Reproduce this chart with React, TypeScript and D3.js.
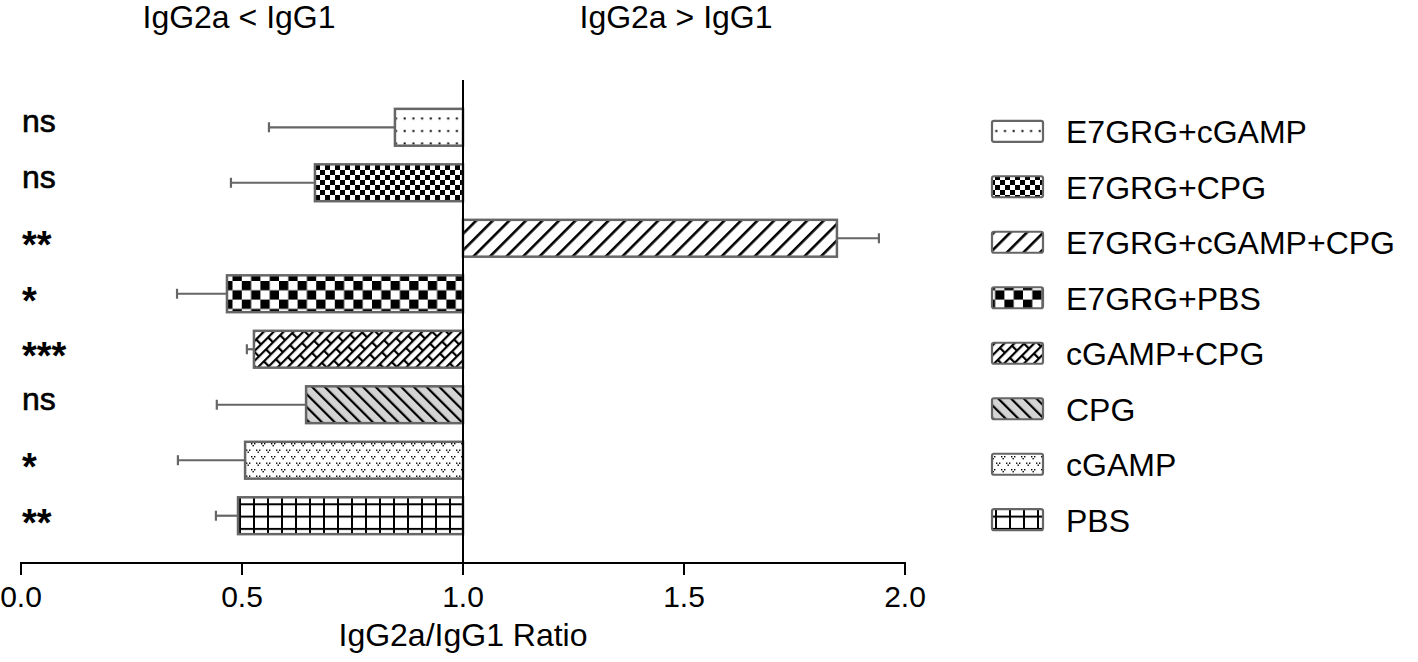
import React, { useEffect } from 'react';
import * as d3 from 'd3';

// groups, top to bottom
const groups = ['E7GRG+cGAMP', 'E7GRG+CPG', 'E7GRG+cGAMP+CPG', 'E7GRG+PBS', 'cGAMP+CPG', 'CPG', 'cGAMP', 'PBS'];
const ratios = [0.846, 0.665, 1.846, 0.466, 0.527, 0.645, 0.507, 0.491];
const errors = [0.285, 0.19, 0.095, 0.113, 0.016, 0.202, 0.152, 0.05];
const significance = ['ns', 'ns', '**', '*', '***', 'ns', '*', '**'];
const patternIds = ['dots', 'fineCheck', 'diag', 'bigCheck', 'bricks', 'grayHatch', 'vees', 'grid'];
const xTicks = [0, 0.5, 1, 1.5, 2];

const FONT = '"Liberation Sans", Arial, Helvetica, sans-serif';
const EDGE = '#666';

const Patterns = () => (
  <defs>
    <pattern id="dots" patternUnits="userSpaceOnUse" width="8.7" height="12.5">
      <rect width="8.7" height="12.5" fill="#fff" />
      <rect x="3.5" y="5" width="2" height="2" fill="#000" />
    </pattern>
    <pattern id="fineCheck" patternUnits="userSpaceOnUse" width="10" height="10">
      <rect width="10" height="10" fill="#fff" />
      <rect x="0" y="0" width="5" height="5" fill="#000" />
      <rect x="5" y="5" width="5" height="5" fill="#000" />
    </pattern>
    <pattern id="diag" patternUnits="userSpaceOnUse" width="11.7" height="11.7" patternTransform="rotate(45)">
      <rect width="11.7" height="11.7" fill="#fff" />
      <rect x="0" y="0" width="2.6" height="11.7" fill="#000" />
    </pattern>
    <pattern id="bigCheck" patternUnits="userSpaceOnUse" width="18.6" height="18.6" y="2">
      <rect width="18.6" height="18.6" fill="#fff" />
      <rect x="0" y="0" width="9.3" height="9.3" fill="#000" />
      <rect x="9.3" y="9.3" width="9.3" height="9.3" fill="#000" />
    </pattern>
    <pattern id="bricks" patternUnits="userSpaceOnUse" width="20" height="14" patternTransform="rotate(-45)">
      <rect width="20" height="14" fill="#fff" />
      <rect x="0" y="0" width="20" height="2.2" fill="#000" />
      <rect x="0" y="7" width="20" height="2.2" fill="#000" />
      <rect x="0" y="0" width="2.2" height="7" fill="#000" />
      <rect x="10" y="7" width="2.2" height="7" fill="#000" />
    </pattern>
    <pattern id="grayHatch" patternUnits="userSpaceOnUse" width="9" height="9" patternTransform="rotate(-45)">
      <rect width="9" height="9" fill="#d4d4d4" />
      <rect x="0" y="0" width="2.2" height="9" fill="#000" />
    </pattern>
    <pattern id="vees" patternUnits="userSpaceOnUse" width="10" height="13">
      <rect width="10" height="13" fill="#fff" />
      <g fill="#000">
        <rect x="1" y="1" width="1.4" height="1.4" />
        <rect x="4" y="1" width="1.4" height="1.4" />
        <rect x="2.5" y="3" width="1.4" height="1.4" />
        <rect x="6" y="7.5" width="1.4" height="1.4" />
        <rect x="9" y="7.5" width="1.4" height="1.4" />
        <rect x="7.5" y="9.5" width="1.4" height="1.4" />
        <rect x="-1" y="7.5" width="1.4" height="1.4" />
      </g>
    </pattern>
    <pattern id="grid" patternUnits="userSpaceOnUse" width="14" height="12.3" x="1" y="-1">
      <rect width="14" height="12.3" fill="#fff" />
      <rect x="0" y="0" width="2" height="12.3" fill="#000" />
      <rect x="0" y="0" width="14" height="2" fill="#000" />
    </pattern>
  </defs>
);

export default function App() {
  useEffect(() => {
    document.body.style.margin = '0';
  }, []);

  const width = 1418;
  const height = 662;

  const x = d3.scaleLinear().domain([0, 2]).range([21, 905]);
  const y = d3.scaleBand<string>().domain(groups).range([80, 563]).paddingInner(0.336).paddingOuter(0.52);
  const axisY = 563;
  const bw = y.bandwidth();

  return (
    <svg width={width} height={height} style={{ display: 'block', fontFamily: FONT }}>
      <Patterns />

      {/* top region labels */}
      <text x={239} y={28} fontSize={32} textAnchor="middle">IgG2a &lt; IgG1</text>
      <text x={676} y={28} fontSize={32} textAnchor="middle">IgG2a &gt; IgG1</text>

      {/* bars */}
      {groups.map((g, i) => {
        const v = ratios[i];
        const x0 = x(Math.min(v, 1));
        const x1 = x(Math.max(v, 1));
        const yc = (y(g) as number) + bw / 2;
        const errEnd = v < 1 ? v - errors[i] : v + errors[i];
        const errStart = x(v);
        const isStar = significance[i] !== 'ns';
        return (
          <g key={g}>
            <line x1={errStart} x2={x(errEnd)} y1={yc} y2={yc} stroke={EDGE} strokeWidth={2.2} />
            <line x1={x(errEnd)} x2={x(errEnd)} y1={yc - 5} y2={yc + 5} stroke={EDGE} strokeWidth={2.2} />
            <rect x={x0} y={y(g)} width={x1 - x0} height={bw} fill={`url(#${patternIds[i]})`} stroke={EDGE} strokeWidth={2.5} />
            <text
              x={22}
              y={isStar ? yc + 20 : yc + 5}
              fontSize={isStar ? 38 : 32}
              fontWeight={isStar ? 'bold' : 'normal'}
              stroke="#000"
              strokeWidth={isStar ? 0 : 0.6}
            >
              {significance[i]}
            </text>
          </g>
        );
      })}

      {/* reference line at ratio 1 */}
      <line x1={x(1)} x2={x(1)} y1={80} y2={axisY} stroke="#000" strokeWidth={2} />

      {/* x axis */}
      <line x1={x(0) - 1} x2={x(2) + 1} y1={axisY} y2={axisY} stroke="#000" strokeWidth={2} />
      {xTicks.map((t) => (
        <g key={t}>
          <line x1={x(t)} x2={x(t)} y1={axisY} y2={axisY + 12} stroke="#000" strokeWidth={2} />
          <text x={x(t)} y={607} fontSize={30} textAnchor="middle">{d3.format('.1f')(t)}</text>
        </g>
      ))}
      <text x={x(1)} y={646} fontSize={32} textAnchor="middle">IgG2a/IgG1 Ratio</text>

      {/* legend */}
      {groups.map((g, i) => {
        const yc = (y(g) as number) + bw / 2 + 4;
        return (
          <g key={`lg-${g}`}>
            <rect x={992} y={yc - 10.5} width={51} height={21} rx={2} fill={`url(#${patternIds[i]})`} stroke={EDGE} strokeWidth={2.2} />
            <text x={1066} y={yc + 12} fontSize={32}>{g}</text>
          </g>
        );
      })}
    </svg>
  );
}
